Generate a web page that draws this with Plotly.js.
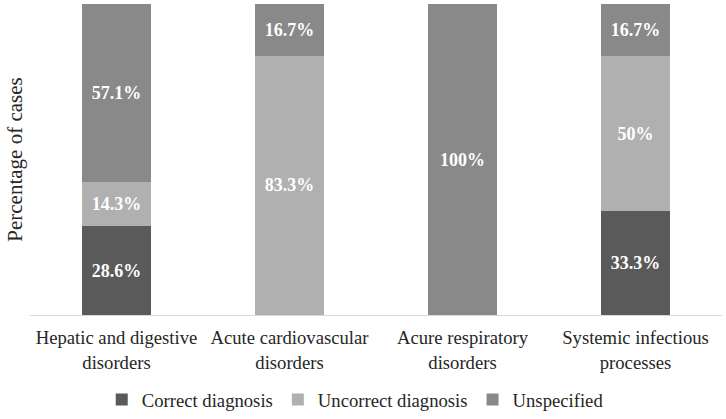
<!DOCTYPE html>
<html>
<head>
<meta charset="utf-8">
<script src="https://cdn.plot.ly/plotly-3.0.1.min.js"></script>
<style>html,body{margin:0;padding:0;background:#fff}#chart{width:726px;height:419px}</style>
</head>
<body>
<div id="chart"></div>
<script>
const categories = ["Hepatic and digestive<br>disorders", "Acute cardiovascular<br>disorders", "Acure respiratory<br>disorders", "Systemic infectious<br>processes"];
const correctDiagnosis = [28.6, null, null, 33.3];
const uncorrectDiagnosis = [14.3, 83.3, null, 50];
const unspecified = [57.1, 16.7, 100, 16.7];
const seriesNames = ["Correct diagnosis", "Uncorrect diagnosis", "Unspecified"];
const seriesColors = ["#5a5a5a", "#b0b0b0", "#898989"];

const FONT = "Liberation Serif";
const series = [correctDiagnosis, uncorrectDiagnosis, unspecified];
const traces = series.map((vals, i) => ({
  type: "bar",
  name: seriesNames[i],
  x: categories,
  y: vals,
  marker: {color: seriesColors[i], line: {width: 0}},
  texttemplate: "%{y}%",
  textposition: "inside",
  insidetextanchor: "middle",
  constraintext: "none",
  textfont: {family: FONT, size: 18, color: "#ffffff", weight: "bold"},
  hoverinfo: "skip"
}));

const layout = {
  width: 726, height: 419,
  margin: {l: 30, r: 4, t: 4, b: 104, autoexpand: false},
  barmode: "stack",
  bargap: 0.6,
  paper_bgcolor: "#ffffff",
  plot_bgcolor: "#ffffff",
  font: {family: FONT, size: 18.67, color: "#262626"},
  xaxis: {
    showline: true, linecolor: "#d9d9d9", linewidth: 1,
    ticks: "", showgrid: false, zeroline: false, automargin: false,
    ticklabelstandoff: 6,
    tickfont: {family: FONT, size: 18.67, color: "#262626"}
  },
  yaxis: {
    range: [0, 100], showticklabels: false, showgrid: false, zeroline: false,
    showline: false, ticks: "", automargin: false,
    title: {text: "Percentage of cases", font: {family: FONT, size: 21, color: "#262626"}, standoff: 0}
  },
  showlegend: true,
  legend: {
    orientation: "h", x: 0.47, xanchor: "center", y: -0.273, yanchor: "middle",
    font: {family: FONT, size: 18.67, color: "#262626"},
    traceorder: "normal", itemwidth: 30
  }
};

Plotly.newPlot("chart", traces, layout, {displayModeBar: false, staticPlot: true});
</script>
</body>
</html>
